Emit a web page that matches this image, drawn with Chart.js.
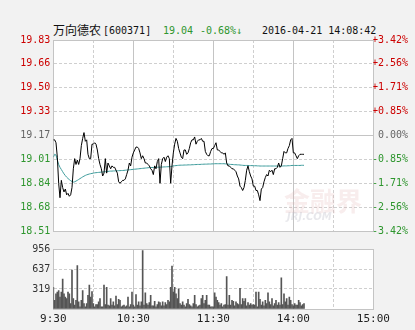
<!DOCTYPE html>
<html>
<head>
<meta charset="utf-8">
<script src="https://cdn.jsdelivr.net/npm/chart.js@4.4.0/dist/chart.umd.min.js"></script>
<style>
body { margin: 0; background: #f2f2f2; width: 415px; height: 330px; position: relative; overflow: hidden; font-family: 'DejaVu Sans Mono', monospace; }
#price { position: absolute; left: 0; top: 0; }
#vol { position: absolute; left: 0; top: 240px; }
.hd { position: absolute; top: 24px; font-size: 10px; line-height: 14px; white-space: nowrap; color: #111; }
.green { color: #2e962e; }
.wm { position: absolute; left: 284px; top: 187px; color: rgba(225, 175, 175, 0.22); font-family: 'Noto Sans CJK SC'; font-weight: bold; font-size: 26px; line-height: 26px; pointer-events: none; }
.wm2 { position: absolute; left: 287px; top: 211px; color: rgba(190, 190, 200, 0.35); font-family: 'DejaVu Sans'; font-weight: bold; font-style: italic; font-size: 10px; pointer-events: none; }
</style>
</head>
<body>
<div class="hd" style="left:53px;font-family:'Noto Sans CJK SC';font-size:12px;top:23px">万向德农</div>
<div class="hd" style="left:103px">[600371]</div>
<div class="hd green" style="left:163px">19.04</div>
<div class="hd green" style="left:200px">-0.68%↓</div>
<div class="hd" style="left:262px">2016-04-21 14:08:42</div>
<canvas id="price" width="415" height="240"></canvas>
<canvas id="vol" width="415" height="90"></canvas>
<div class="wm">金融界</div>
<div class="wm2">JRJ.COM</div>
<script>
// tick labels
const priceTicks = [19.83, 19.665, 19.50, 19.335, 19.17, 19.005, 18.84, 18.675, 18.51];
const priceLabels = ['19.83', '19.66', '19.50', '19.33', '19.17', '19.01', '18.84', '18.68', '18.51'];
const pctLabels = ['+3.42%', '+2.56%', '+1.71%', '+0.85%', '0.00%', '-0.85%', '-1.71%', '-2.56%', '-3.42%'];
const volTicks = [0, 319, 637, 956];
const volLabels = ['', '319', '637', '956'];
const timePos = [0, 60, 120, 180, 240];
const timeLabels = ['9:30', '10:30', '11:30', '14:00', '15:00'];

// one value per minute, 9:30 -> 14:08
const price = [
    19.14, 19.14, 19.12, 19.02, 18.84, 18.74, 18.86, 18.81, 18.78, 18.80,
    18.76, 18.77, 18.75, 18.76, 18.81, 18.94, 19.01, 18.97, 19.00, 18.97,
    19.01, 19.10, 19.15, 19.19, 19.13, 19.14, 19.04, 19.01, 19.01, 19.11,
    19.11, 19.12, 19.11, 19.07, 19.01, 18.97, 18.94, 18.89, 18.91, 19.01,
    18.91, 18.98, 18.96, 18.94, 18.96, 18.95, 18.95, 18.93, 18.91, 18.85,
    18.84, 18.85, 18.86, 18.86, 18.87, 18.90, 18.93, 18.98, 18.96, 19.02,
    19.05, 19.07, 19.09, 19.09, 19.08, 19.05, 19.01, 19.03, 19.01, 18.98,
    18.98, 18.97, 18.96, 18.94, 18.93, 18.90, 18.96, 18.94, 18.99, 19.01,
    18.84, 18.97, 19.01, 19.02, 18.99, 19.02, 19.03, 19.01, 18.84, 18.96,
    19.05, 19.11, 19.15, 19.13, 19.08, 19.05, 19.02, 19.01, 19.07, 19.07,
    19.04, 19.05, 19.08, 19.12, 19.14, 19.14, 19.16, 19.11, 19.13, 19.14,
    19.14, 19.15, 19.13, 19.13, 19.06, 19.04, 19.03, 19.03, 19.06, 19.08,
    19.08, 19.10, 19.12, 19.07, 19.07, 19.06, 19.05, 19.05, 19.04, 19.05,
    18.98, 18.96, 18.96, 18.95, 18.94, 18.94, 18.93, 18.92, 18.89, 18.87,
    18.82, 18.81, 18.79, 18.81, 18.86, 18.93, 18.96, 18.92, 18.89, 18.87,
    18.82, 18.82, 18.79, 18.79, 18.76, 18.72, 18.80, 18.81, 18.85, 18.88,
    18.90, 18.89, 18.93, 18.92, 18.93, 18.90, 18.94, 18.94, 18.95, 18.98,
    18.95, 18.96, 19.01, 19.06, 19.05, 19.05, 19.08, 19.10, 19.14, 19.15,
    19.05, 19.05, 19.03, 19.01, 19.03, 19.04, 19.04, 19.04, 19.04
];
const avgPrice = [
    19.020, 19.040, 19.035, 19.000, 18.970, 18.950, 18.935, 18.920, 18.905, 18.893,
    18.882, 18.873, 18.865, 18.858, 18.852, 18.848, 18.850, 18.855, 18.860, 18.866,
    18.872, 18.878, 18.884, 18.889, 18.894, 18.898, 18.901, 18.904, 18.906, 18.908,
    18.910, 18.912, 18.913, 18.914, 18.915, 18.916, 18.917, 18.918, 18.919, 18.920,
    18.921, 18.922, 18.923, 18.924, 18.924, 18.925, 18.925, 18.926, 18.926, 18.927,
    18.927, 18.928, 18.928, 18.929, 18.930, 18.931, 18.932, 18.933, 18.934, 18.935,
    18.936, 18.937, 18.938, 18.939, 18.940, 18.941, 18.942, 18.943, 18.944, 18.945,
    18.946, 18.947, 18.948, 18.948, 18.949, 18.949, 18.950, 18.950, 18.951, 18.951,
    18.951, 18.952, 18.952, 18.953, 18.953, 18.954, 18.954, 18.955, 18.955, 18.958,
    18.960, 18.961, 18.962, 18.963, 18.964, 18.965, 18.965, 18.965, 18.966, 18.966,
    18.966, 18.967, 18.967, 18.967, 18.968, 18.968, 18.969, 18.969, 18.970, 18.970,
    18.970, 18.971, 18.971, 18.972, 18.972, 18.972, 18.973, 18.973, 18.973, 18.974,
    18.974, 18.975, 18.975, 18.975, 18.975, 18.975, 18.975, 18.975, 18.975, 18.974,
    18.973, 18.972, 18.971, 18.970, 18.970, 18.969, 18.968, 18.968, 18.967, 18.967,
    18.966, 18.965, 18.964, 18.963, 18.963, 18.963, 18.963, 18.962, 18.962, 18.962,
    18.961, 18.961, 18.961, 18.960, 18.960, 18.959, 18.959, 18.959, 18.959, 18.959,
    18.959, 18.959, 18.959, 18.959, 18.959, 18.959, 18.959, 18.959, 18.959, 18.959,
    18.959, 18.959, 18.959, 18.960, 18.960, 18.960, 18.961, 18.961, 18.962, 18.963,
    18.963, 18.963, 18.963, 18.963, 18.963, 18.963, 18.964, 18.964, 18.964
];
const volume = [
    346, 140, 243, 269, 295, 191, 269, 476, 243, 191,
    165, 269, 243, 88, 620, 165, 62, 140, 693, 114,
    36, 140, 295, 88, 36, 88, 217, 382, 191, 279,
    88, 36, 72, 72, 114, 165, 36, 36, 382, 72,
    346, 62, 52, 165, 62, 114, 52, 207, 72, 155,
    140, 36, 52, 62, 36, 52, 191, 36, 72, 269,
    62, 36, 228, 62, 114, 52, 114, 930, 62, 259,
    88, 62, 103, 217, 52, 52, 124, 36, 72, 114,
    103, 52, 114, 52, 103, 72, 140, 114, 346, 682,
    269, 346, 243, 165, 320, 88, 62, 114, 62, 36,
    88, 155, 72, 52, 36, 88, 217, 72, 36, 52,
    62, 165, 217, 88, 140, 217, 62, 62, 36, 36,
    36, 259, 191, 140, 103, 62, 88, 36, 62, 72,
    517, 62, 217, 62, 140, 124, 52, 114, 88, 72,
    331, 72, 165, 124, 165, 52, 103, 62, 88, 62,
    72, 62, 269, 36, 269, 155, 62, 114, 52, 140,
    88, 259, 114, 72, 165, 52, 88, 140, 62, 103,
    62, 496, 72, 243, 114, 165, 62, 191, 140, 72,
    52, 88, 62, 62, 140, 103, 52, 72, 88
];

const solidGrid = '#c4c4c4';
const dashGrid = '#cfcfcf';
const axisFont = { family: 'DejaVu Sans Mono', size: 10 };

const whiteArea = {
    id: 'whiteArea',
    beforeDraw(chart) {
        const a = chart.chartArea;
        chart.ctx.save();
        chart.ctx.fillStyle = '#ffffff';
        chart.ctx.fillRect(a.left, a.top, a.right - a.left, a.bottom - a.top);
        chart.ctx.restore();
    }
};

function xGrid(hideLabels) {
    return {
        type: 'linear', min: 0, max: 240, offset: false,
        ticks: {
            display: !hideLabels, stepSize: 30, autoSkip: false, maxRotation: 0,
            padding: 4, color: '#222', font: { family: 'DejaVu Sans Mono', size: 11 },
            callback: (v) => {
                const k = timePos.indexOf(v);
                return k >= 0 ? timeLabels[k] : '';
            }
        },
        grid: {
            drawTicks: false, offset: false,
            color: (ctx) => (ctx.tick && ctx.tick.value % 60 === 0) ? solidGrid : dashGrid
        },
        border: {
            color: solidGrid,
            dash: (ctx) => (ctx.type === 'tick' && ctx.tick.value % 60 !== 0) ? [3, 2] : []
        },
        afterFit: hideLabels ? (s) => { s.height = 0; } : (s) => { s.height = 21; }
    };
}

const labelColor = (ctx) => ctx.index < 4 ? '#cc0000' : (ctx.index === 4 ? '#666666' : '#2e962e');

new Chart(document.getElementById('price'), {
    type: 'line',
    data: {
        datasets: [{
            data: price.map((v, i) => ({ x: i, y: v })),
            borderColor: '#000000',
            borderWidth: 1,
            pointRadius: 0,
            tension: 0,
            yAxisID: 'y'
        }, {
            data: avgPrice.map((v, i) => ({ x: i, y: v })),
            borderColor: '#3f9c9c',
            borderWidth: 1,
            pointRadius: 0,
            tension: 0,
            yAxisID: 'y'
        }]
    },
    options: {
        responsive: false,
        animation: false,
        layout: { padding: { top: 40, bottom: 6.4, left: 0, right: 7 } },
        plugins: { legend: { display: false }, tooltip: { enabled: false } },
        scales: {
            x: xGrid(true),
            y: {
                position: 'left', min: 18.51, max: 19.83,
                afterBuildTicks: (s) => { s.ticks = priceTicks.map(v => ({ value: v })); },
                afterFit: (s) => { s.width = 53.33; },
                ticks: { padding: 3, color: labelColor, font: axisFont, callback: (v, i) => priceLabels[i] },
                grid: {
                    drawTicks: false,
                    color: (ctx) => [0, 4, 8].includes(ctx.index) ? solidGrid : dashGrid
                },
                border: {
                    color: solidGrid,
                    dash: (ctx) => (ctx.type === 'tick' && ![0, 4, 8].includes(ctx.index)) ? [3, 2] : []
                }
            },
            y2: {
                position: 'right', min: 18.51, max: 19.83,
                afterBuildTicks: (s) => { s.ticks = priceTicks.map(v => ({ value: v })); },
                afterFit: (s) => { s.width = 34.67; },
                ticks: { crossAlign: 'far', color: labelColor, font: axisFont, callback: (v, i) => pctLabels[i] },
                grid: { display: false, drawTicks: false },
                border: { color: solidGrid }
            }
        }
    },
    plugins: [whiteArea]
});

new Chart(document.getElementById('vol'), {
    type: 'bar',
    data: {
        datasets: [{
            data: volume.map((v, i) => ({ x: i, y: v })),
            backgroundColor: '#555555',
            barThickness: 1
        }]
    },
    options: {
        responsive: false,
        animation: false,
        layout: { padding: { top: 7.3, bottom: 0, left: 0, right: 41.67 } },
        plugins: { legend: { display: false }, tooltip: { enabled: false } },
        scales: {
            x: xGrid(false),
            y: {
                position: 'left', min: 0, max: 956,
                afterBuildTicks: (s) => { s.ticks = volTicks.map(v => ({ value: v })); },
                afterFit: (s) => { s.width = 53.33; },
                ticks: { padding: 3, color: '#333333', font: axisFont, callback: (v, i) => volLabels[i] },
                grid: {
                    drawTicks: false,
                    color: (ctx) => (ctx.index === 0 || ctx.index === 3) ? solidGrid : dashGrid
                },
                border: {
                    color: solidGrid,
                    dash: (ctx) => (ctx.type === 'tick' && (ctx.index === 1 || ctx.index === 2)) ? [3, 2] : []
                }
            }
        }
    },
    plugins: [whiteArea]
});
</script>
</body>
</html>
